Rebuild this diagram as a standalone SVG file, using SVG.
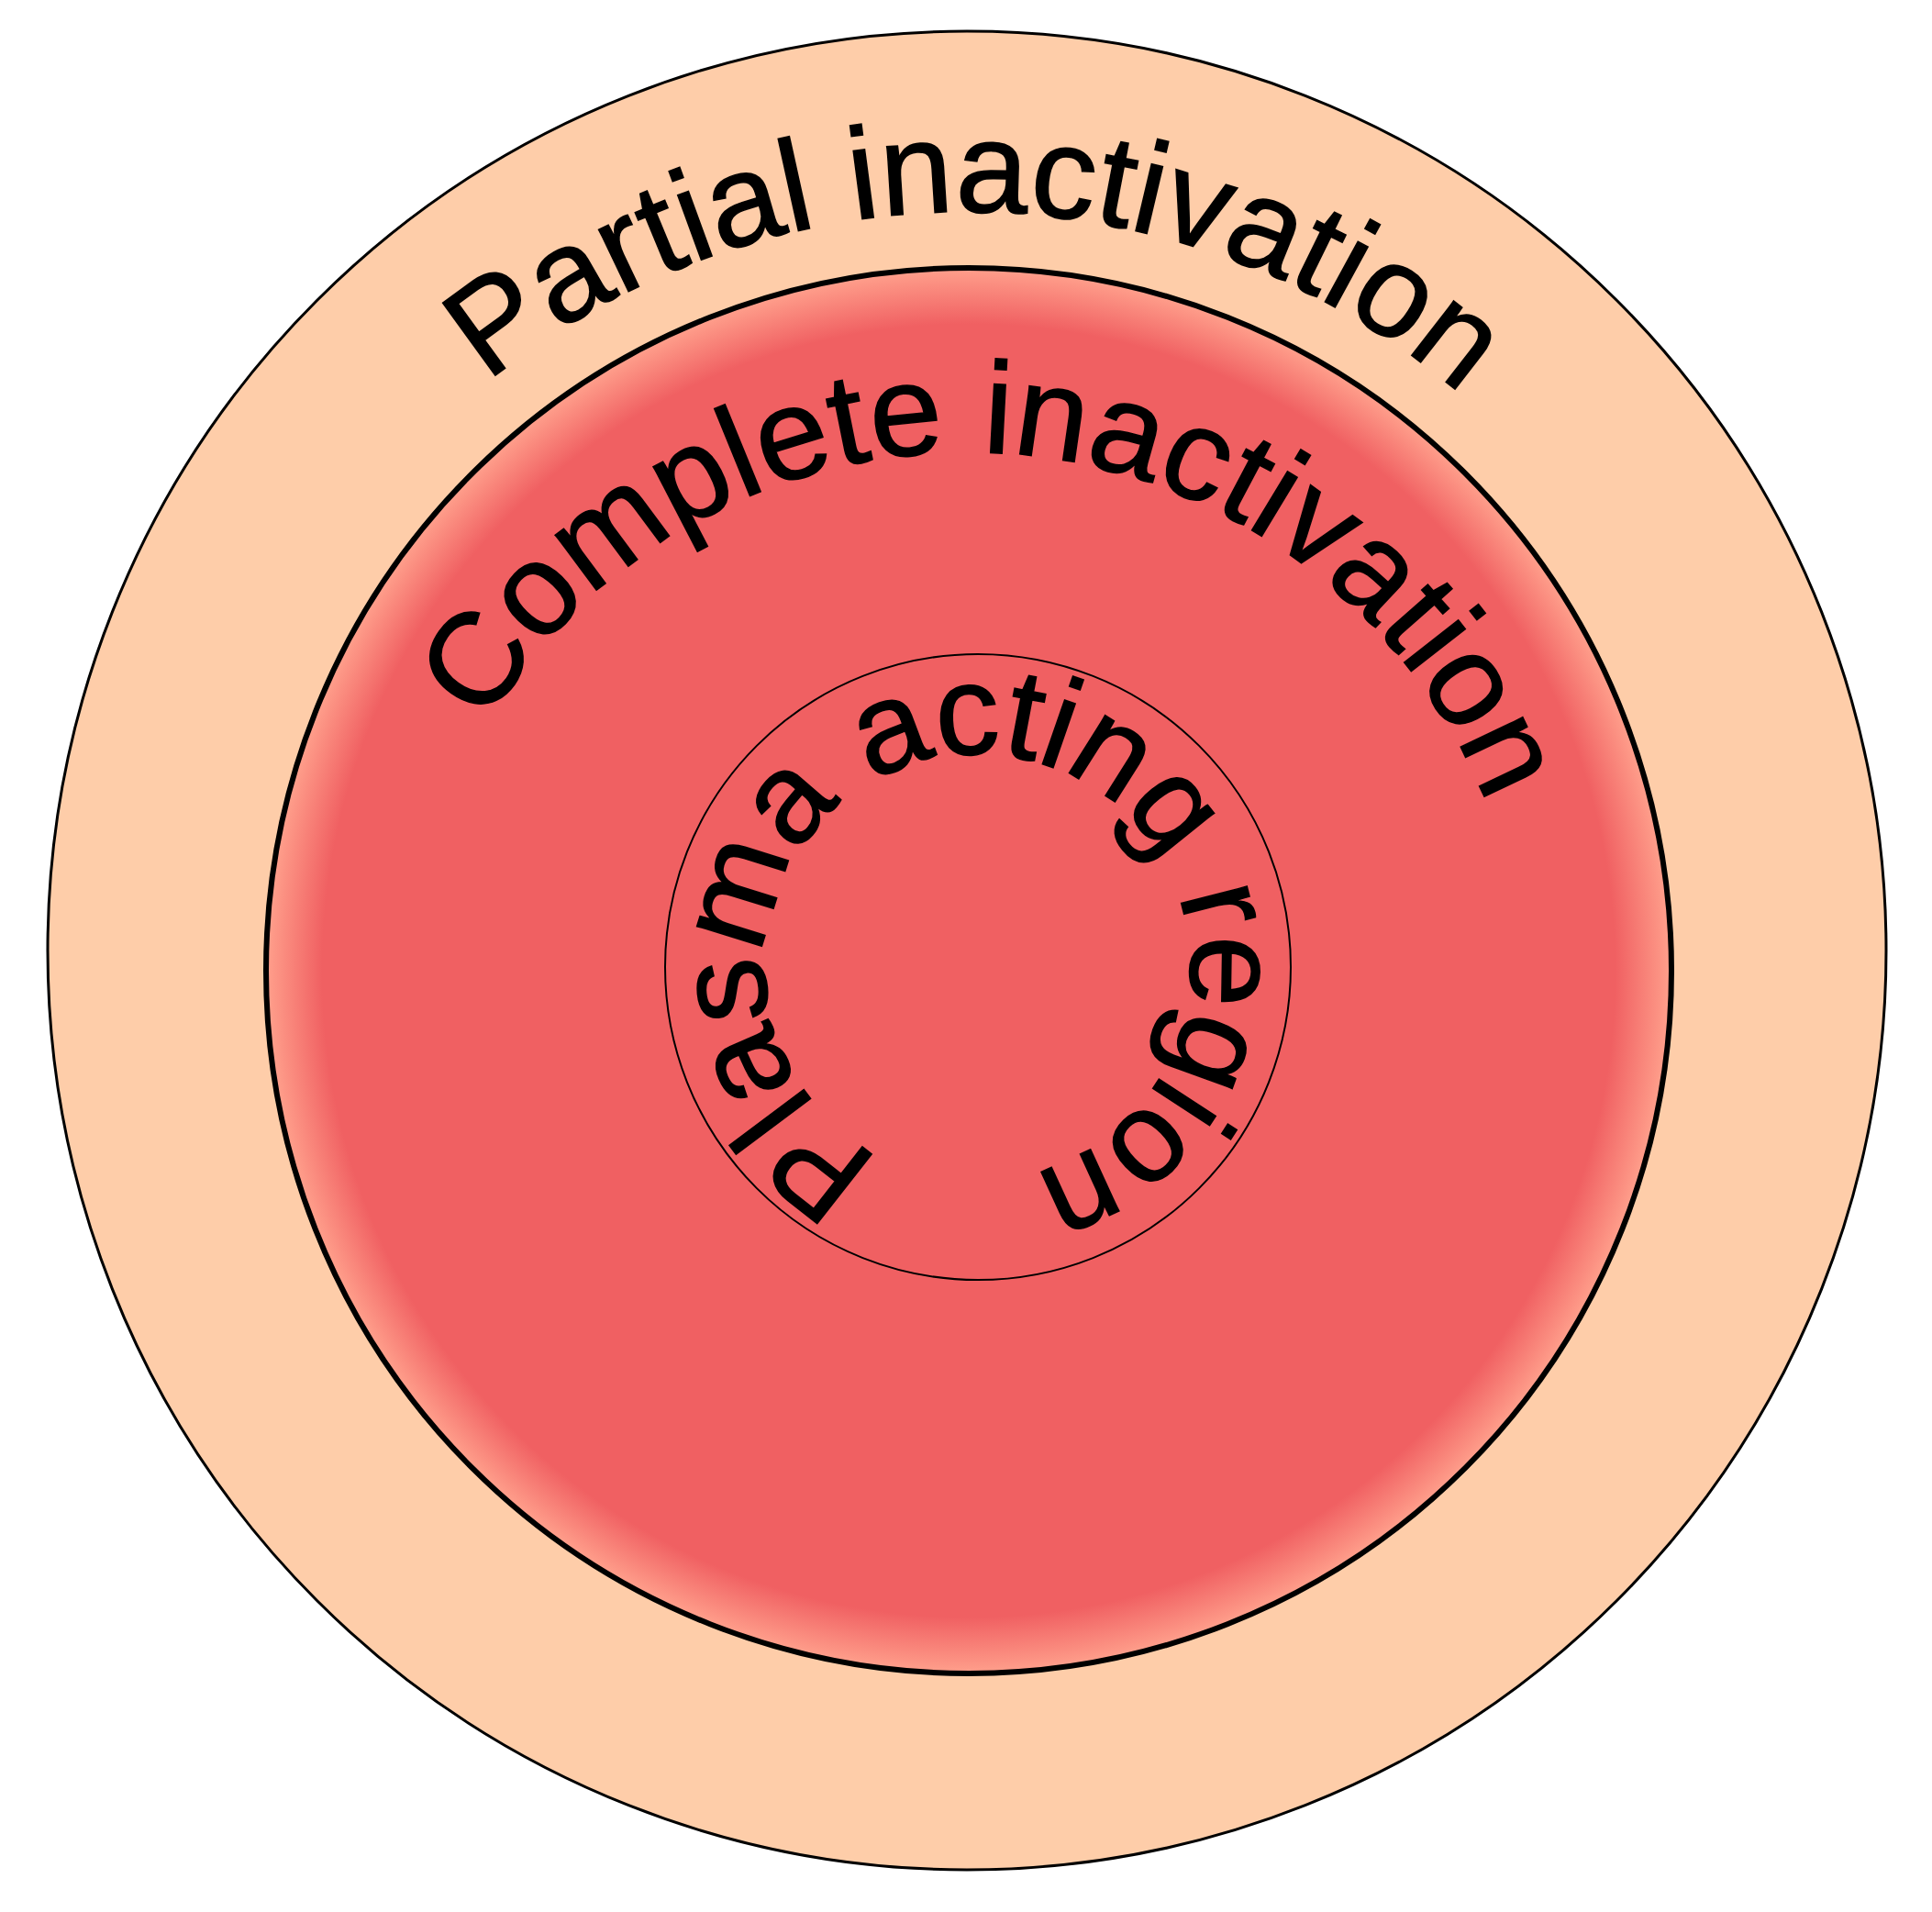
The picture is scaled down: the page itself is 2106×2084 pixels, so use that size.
<svg xmlns="http://www.w3.org/2000/svg" width="2106" height="2084" viewBox="0 0 2106 2084">
<defs>
<style>
.lbl{font-family:"Liberation Sans",Arial,sans-serif;font-size:142px;fill:#000;stroke:#000;stroke-width:1.5px;}
.ring{stroke:#000;}
</style>
<radialGradient id="redGrad" cx="1056" cy="1058" r="766" gradientUnits="userSpaceOnUse">
<stop offset="0" stop-color="#F06062"/>
<stop offset="0.92" stop-color="#F06062"/>
<stop offset="1" stop-color="#FFA08C"/>
</radialGradient>
<path id="pPartial" d="M1054,1885 A827,827 0 0 1 1054,231 A827,827 0 0 1 1054,1885"/>
<path id="pComplete" d="M1054,1713 A610,610 0 0 1 1054,493 A610,610 0 0 1 1054,1713"/>
<path id="pPlasma" d="M1066,1286 A232,232 0 0 1 1066,822 A232,232 0 0 1 1066,1286"/>
</defs>
<rect width="2106" height="2084" fill="#FFFFFF"/>
<g id="partial-inactivation">
<circle class="ring" cx="1054" cy="1036" r="1002" fill="#FECDA9" stroke-width="3"/>
<text class="lbl" text-anchor="middle"><textPath href="#pPartial" startOffset="50.2%">Partial inactivation</textPath></text>
</g>
<g id="complete-inactivation">
<circle class="ring" cx="1056" cy="1058" r="766" fill="url(#redGrad)" stroke-width="6"/>
<text class="lbl" text-anchor="middle"><textPath href="#pComplete" startOffset="51.25%">Complete inactivation</textPath></text>
</g>
<g id="plasma-acting-region">
<circle class="ring" cx="1066" cy="1054" r="341" fill="none" stroke-width="2"/>
<text class="lbl" style="font-size:140px;letter-spacing:-1px" text-anchor="middle"><textPath href="#pPlasma" startOffset="51.6%">Plasma acting region</textPath></text>
</g>
<g id="connectors"/>
</svg>
